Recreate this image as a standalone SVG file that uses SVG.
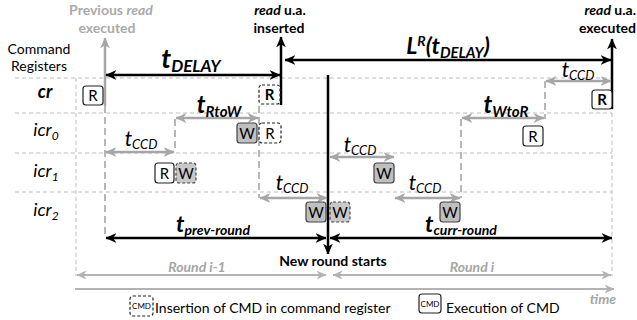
<svg xmlns="http://www.w3.org/2000/svg" width="637" height="320" viewBox="0 0 637 320">
  <style>
    text { font-family: Lato, "Liberation Sans", sans-serif; fill: #000; }
    .hdr { font-size: 14px; font-weight: bold; text-anchor: middle; }
    .hdr-r { font-size: 14px; font-weight: bold; text-anchor: end; }
    .hdr-g { font-size: 14px; font-weight: bold; text-anchor: middle; fill: #aaaaaa; }
    .lbl { font-size: 14px; text-anchor: middle; }
    .row { font-size: 18px; font-style: italic; text-anchor: middle; }
    .tb { font-weight: bold; font-style: italic; text-anchor: middle; }
    .ti { font-style: italic; text-anchor: middle; }
    .gr { font-size: 14px; font-weight: bold; font-style: italic; text-anchor: middle; fill: #a6a6a6; }
    .box-t { font-size: 15px; text-anchor: middle; }
    .grid { stroke: #bdbdbd; stroke-width: 1; stroke-dasharray: 4 3; fill: none; }
    .guide { stroke: #a6a6a6; stroke-width: 1.6; stroke-dasharray: 7 4; fill: none; }
    .blk { stroke: #000; stroke-width: 2.5; fill: none; }
    .gry { stroke: #a6a6a6; stroke-width: 2.5; fill: none; }
    .lgry { stroke: #b3b3b3; stroke-width: 1.8; fill: none; }
    .cmd { fill: #fff; stroke: #222; stroke-width: 1.2; }
    .cmd-w { fill: #bfbfbf; stroke: #444; stroke-width: 1.2; }
    .ins { fill: #fff; stroke: #222; stroke-width: 1.2; stroke-dasharray: 3 2; }
    .ins-w { fill: #c8c8c8; stroke: #444; stroke-width: 1.2; stroke-dasharray: 3 2; }
  </style>
  <defs>
    <marker id="hb" viewBox="0 0 10 10" refX="9.5" refY="5" markerWidth="11" markerHeight="11" markerUnits="userSpaceOnUse" orient="auto-start-reverse">
      <path d="M0,0.5 L10,5 L0,9.5 L3,5 z" fill="#000"/>
    </marker>
    <marker id="hg" viewBox="0 0 10 10" refX="9.5" refY="5" markerWidth="11" markerHeight="11" markerUnits="userSpaceOnUse" orient="auto-start-reverse">
      <path d="M0,0.5 L10,5 L0,9.5 L3,5 z" fill="#a6a6a6"/>
    </marker>
    <marker id="hl" viewBox="0 0 10 10" refX="9.5" refY="5" markerWidth="10" markerHeight="10" markerUnits="userSpaceOnUse" orient="auto-start-reverse">
      <path d="M0,0.5 L10,5 L0,9.5 L3,5 z" fill="#b3b3b3"/>
    </marker>
  </defs>

  <!-- register table grid -->
  <g id="grid">
    <line class="grid" x1="15" y1="78" x2="612" y2="78"/>
    <line class="grid" x1="15" y1="113" x2="612" y2="113"/>
    <line class="grid" x1="15" y1="153" x2="612" y2="153"/>
    <line class="grid" x1="15" y1="192" x2="612" y2="192"/>
    <line class="grid" x1="76" y1="78" x2="76" y2="276"/>
    <line class="grid" x1="612" y1="78" x2="612" y2="276"/>
  </g>

  <!-- row labels -->
  <g id="labels">
    <text class="lbl" x="39" y="54">Command</text>
    <text class="lbl" x="39" y="71">Registers</text>
    <text class="row" x="45" y="98" font-weight="bold">cr</text>
    <text class="row" x="46" y="136">icr<tspan dy="4" font-size="12">0</tspan></text>
    <text class="row" x="46" y="177">icr<tspan dy="4" font-size="12">1</tspan></text>
    <text class="row" x="46" y="216">icr<tspan dy="4" font-size="12">2</tspan></text>
  </g>

  <!-- headers -->
  <g id="headers">
    <text class="hdr-g" x="111" y="15">Previous <tspan font-style="italic">read</tspan></text>
    <text class="hdr-g" x="107" y="33">executed</text>
    <text class="hdr" x="280" y="15"><tspan font-style="italic">read</tspan> u.a.</text>
    <text class="hdr" x="279" y="33">inserted</text>
    <text class="hdr-r" x="636" y="15"><tspan font-style="italic">read</tspan> u.a.</text>
    <text class="hdr-r" x="636" y="33">executed</text>
  </g>

  <!-- connectors: timing guides and arrows -->
  <g id="connectors">
    <!-- dashed timing guides -->
    <line class="guide" x1="105" y1="106" x2="105" y2="237"/>
    <line class="guide" x1="175" y1="119" x2="175" y2="152"/>
    <line class="guide" x1="259" y1="106" x2="259" y2="198"/>
    <line class="guide" x1="461" y1="119" x2="461" y2="198"/>
    <line class="guide" x1="545" y1="81" x2="545" y2="119"/>

    <!-- event markers -->
    <line class="gry" x1="105" y1="106" x2="105" y2="38" marker-end="url(#hg)"/>
    <line class="blk" x1="281" y1="105" x2="281" y2="37" marker-end="url(#hb)"/>
    <line class="blk" x1="612" y1="109" x2="612" y2="39" marker-end="url(#hb)"/>
    <line class="blk" x1="328" y1="75" x2="328" y2="254" marker-end="url(#hb)"/>

    <!-- top spans -->
    <line class="blk" x1="106" y1="75" x2="280" y2="75" marker-start="url(#hb)" marker-end="url(#hb)"/>
    <line class="blk" x1="285" y1="60" x2="611" y2="60" marker-start="url(#hb)" marker-end="url(#hb)"/>

    <!-- command timing constraints -->
    <line class="gry" x1="546" y1="81" x2="611" y2="81" marker-start="url(#hg)" marker-end="url(#hg)"/>
    <line class="gry" x1="176" y1="118" x2="258" y2="118" marker-start="url(#hg)" marker-end="url(#hg)"/>
    <line class="gry" x1="462" y1="118" x2="544" y2="118" marker-start="url(#hg)" marker-end="url(#hg)"/>
    <line class="gry" x1="106" y1="152" x2="174" y2="152" marker-start="url(#hg)" marker-end="url(#hg)"/>
    <line class="gry" x1="330" y1="157" x2="394" y2="157" marker-start="url(#hg)" marker-end="url(#hg)"/>
    <line class="gry" x1="260" y1="198" x2="327" y2="198" marker-start="url(#hg)" marker-end="url(#hg)"/>
    <line class="gry" x1="395" y1="198" x2="460" y2="198" marker-start="url(#hg)" marker-end="url(#hg)"/>

    <!-- round spans -->
    <line class="blk" x1="106" y1="238" x2="326" y2="238" marker-start="url(#hb)" marker-end="url(#hb)"/>
    <line class="blk" x1="330" y1="238" x2="612" y2="238" marker-start="url(#hb)" marker-end="url(#hb)"/>
    <line class="lgry" x1="77" y1="275" x2="326" y2="275" marker-start="url(#hl)" marker-end="url(#hl)"/>
    <line class="lgry" x1="333" y1="275" x2="611" y2="275" marker-start="url(#hl)" marker-end="url(#hl)"/>

    <!-- time axis -->
    <line class="lgry" x1="75" y1="289" x2="614" y2="289" marker-end="url(#hl)"/>
  </g>

  <!-- span labels -->
  <g id="span-labels">
    <text class="tb" x="191" y="68" font-size="27">t<tspan dy="4" font-size="17">DELAY</tspan></text>
    <text class="tb" x="448" y="54" font-size="23">L<tspan dy="-8" font-size="14">R</tspan><tspan dy="8">(t</tspan><tspan dy="4" font-size="15">DELAY</tspan><tspan dy="-4">)</tspan></text>
    <text class="ti" x="578" y="77" font-size="21">t<tspan dy="3" font-size="13">CCD</tspan></text>
    <text class="tb" x="219" y="113" font-size="24">t<tspan dy="4" font-size="15">RtoW</tspan></text>
    <text class="tb" x="506" y="113" font-size="24">t<tspan dy="4" font-size="15">WtoR</tspan></text>
    <text class="ti" x="141" y="146" font-size="21">t<tspan dy="3" font-size="13">CCD</tspan></text>
    <text class="ti" x="360" y="152" font-size="21">t<tspan dy="3" font-size="13">CCD</tspan></text>
    <text class="ti" x="292" y="190" font-size="21">t<tspan dy="3" font-size="13">CCD</tspan></text>
    <text class="ti" x="425" y="190" font-size="21">t<tspan dy="3" font-size="13">CCD</tspan></text>
    <text class="tb" x="213" y="232" font-size="23">t<tspan dy="3" font-size="14">prev-round</tspan></text>
    <text class="tb" x="461" y="232" font-size="23">t<tspan dy="3" font-size="14">curr-round</tspan></text>
    <text class="hdr" x="333" y="266">New round starts</text>
    <text class="gr" x="197" y="272">Round i-1</text>
    <text class="gr" x="472" y="272">Round i</text>
    <text class="gr" x="603" y="304">time</text>
  </g>

  <!-- commands: cr -->
  <g id="cr-read-prev">
    <rect class="cmd" x="83" y="86" width="20" height="19" rx="3"/>
    <text class="box-t" x="93" y="101">R</text>
  </g>
  <g id="cr-read-inserted">
    <rect class="ins" x="259" y="85" width="21" height="19" rx="3"/>
    <text class="box-t" x="269.5" y="100" font-weight="bold">R</text>
  </g>
  <g id="cr-read-exec">
    <rect class="cmd" x="592" y="90" width="20" height="19" rx="3"/>
    <text class="box-t" x="602" y="105" font-weight="bold">R</text>
  </g>

  <!-- commands: icr0 -->
  <g id="icr0-write">
    <rect class="cmd-w" x="237" y="123" width="20" height="20" rx="3"/>
    <text class="box-t" x="247" y="139">W</text>
  </g>
  <g id="icr0-read-inserted">
    <rect class="ins" x="259" y="123" width="22" height="20" rx="3"/>
    <text class="box-t" x="270" y="139">R</text>
  </g>
  <g id="icr0-read">
    <rect class="cmd" x="523" y="126" width="20" height="20" rx="3"/>
    <text class="box-t" x="533" y="142">R</text>
  </g>

  <!-- commands: icr1 -->
  <g id="icr1-read">
    <rect class="cmd" x="155" y="163" width="19" height="20" rx="3"/>
    <text class="box-t" x="164.5" y="179">R</text>
  </g>
  <g id="icr1-write-inserted">
    <rect class="ins-w" x="176" y="163" width="20" height="20" rx="3"/>
    <text class="box-t" x="186" y="179">W</text>
  </g>
  <g id="icr1-write">
    <rect class="cmd-w" x="374" y="163" width="20" height="20" rx="3"/>
    <text class="box-t" x="384" y="179">W</text>
  </g>

  <!-- commands: icr2 -->
  <g id="icr2-write">
    <rect class="cmd-w" x="306" y="202" width="20" height="20" rx="3"/>
    <text class="box-t" x="316" y="218">W</text>
  </g>
  <g id="icr2-write-inserted">
    <rect class="ins-w" x="330" y="202" width="20" height="20" rx="3"/>
    <text class="box-t" x="340" y="218">W</text>
  </g>
  <g id="icr2-write-next">
    <rect class="cmd-w" x="440" y="202" width="20" height="20" rx="3"/>
    <text class="box-t" x="450" y="218">W</text>
  </g>

  <!-- legend -->
  <g id="legend">
    <rect class="ins" x="130" y="296" width="23" height="20" rx="3"/>
    <text x="141.5" y="309" font-size="8" text-anchor="middle">CMD</text>
    <text x="155" y="313" font-size="14">Insertion of CMD in command register</text>
    <rect class="cmd" x="419" y="294" width="22" height="19" rx="3"/>
    <text x="430" y="307" font-size="8" text-anchor="middle">CMD</text>
    <text x="446" y="313" font-size="14">Execution of CMD</text>
  </g>
</svg>
